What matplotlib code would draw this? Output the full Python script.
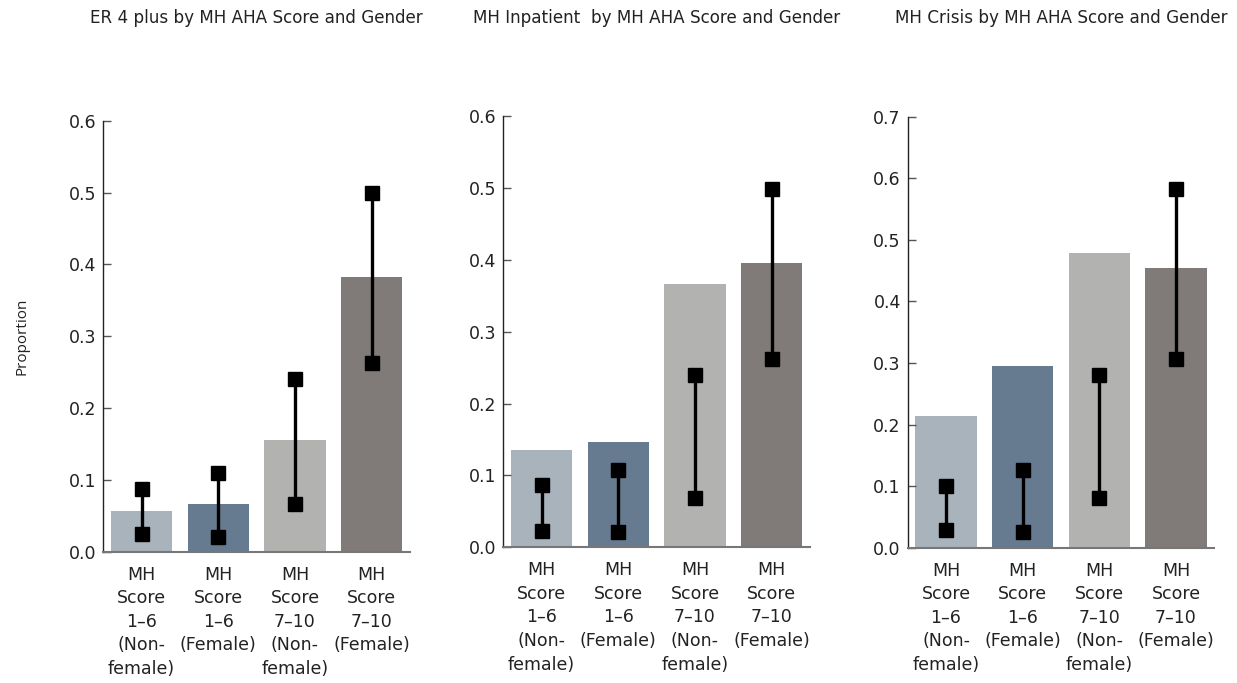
import matplotlib
matplotlib.use("Agg")
import matplotlib.pyplot as plt

plt.rcParams['font.family'] = ['DejaVu Sans']

categories = ["MH\nScore\n1–6\n(Non-\nfemale)", "MH\nScore\n1–6\n(Female)",
              "MH\nScore\n7–10\n(Non-\nfemale)", "MH\nScore\n7–10\n(Female)"]
colors = ["#A8B3BC", "#667B8F", "#B2B2B0", "#807B78"]

titles = ["ER 4 plus by MH AHA Score and Gender",
          "MH Inpatient  by MH AHA Score and Gender",
          "MH Crisis by MH AHA Score and Gender"]

er_values = [0.057, 0.066, 0.156, 0.383]
er_lower = [0.024, 0.020, 0.067, 0.262]
er_upper = [0.087, 0.109, 0.240, 0.499]

inp_values = [0.135, 0.147, 0.366, 0.396]
inp_lower = [0.023, 0.021, 0.068, 0.262]
inp_upper = [0.086, 0.108, 0.239, 0.499]

cri_values = [0.214, 0.295, 0.478, 0.455]
cri_lower = [0.028, 0.025, 0.080, 0.307]
cri_upper = [0.101, 0.127, 0.280, 0.583]

ylims = [0.6, 0.6, 0.7]
yticks = [[0.0, 0.1, 0.2, 0.3, 0.4, 0.5, 0.6],
          [0.0, 0.1, 0.2, 0.3, 0.4, 0.5, 0.6],
          [0.0, 0.1, 0.2, 0.3, 0.4, 0.5, 0.6, 0.7]]

W, H = 1237, 683
fig = plt.figure(figsize=(W / 100, H / 100), dpi=100)

# axes rectangles in pixels: left, right, top, bottom
rects = [(103.3, 410.0, 120.7, 551.7),
         (503.3, 810.0, 116.0, 547.3),
         (907.7, 1214.3, 116.7, 547.7)]

data = [(er_values, er_lower, er_upper),
        (inp_values, inp_lower, inp_upper),
        (cri_values, cri_lower, cri_upper)]

for i, ((l, r, t, b), (vals, lo, hi)) in enumerate(zip(rects, data)):
    ax = fig.add_axes([l / W, 1 - b / H, (r - l) / W, (b - t) / H])
    x = list(range(len(categories)))
    ax.bar(x, vals, width=0.8, color=colors, zorder=1)
    for xi, a, c in zip(x, lo, hi):
        ax.plot([xi, xi], [a, c], color="black", lw=2.4, marker="s",
                markersize=9.8, solid_capstyle="butt", zorder=3)
    ax.set_xlim(-0.5, 3.5)
    ax.set_ylim(0, ylims[i])
    ax.set_yticks(yticks[i])
    ax.set_yticklabels([f"{v:.1f}" for v in yticks[i]])
    ax.set_xticks(x)
    ax.set_xticklabels(categories, linespacing=1.4)
    ax.tick_params(axis="x", length=0, pad=10, labelsize=12.5, colors="#222222")
    ax.tick_params(axis="y", direction="in", length=6, width=1, color="#555555",
                   pad=5, labelsize=12.5, labelcolor="#222222")
    for s in ("top", "right"):
        ax.spines[s].set_visible(False)
    ax.spines["left"].set_color("#222222")
    ax.spines["left"].set_linewidth(1.0)
    ax.spines["bottom"].set_color("#777777")
    ax.spines["bottom"].set_linewidth(1.5)
    fig.text((l + r) / 2 / W, 1 - 18 / H, titles[i], ha="center", va="center",
             fontsize=12.1, color="#222222")

fig.text(22 / W, 1 - 336 / H, "Proportion", rotation=90, ha="center",
         va="center", fontsize=11, color="#222222", family=["Open Sans", "DejaVu Sans"])

fig.savefig("out.png", dpi=100)
